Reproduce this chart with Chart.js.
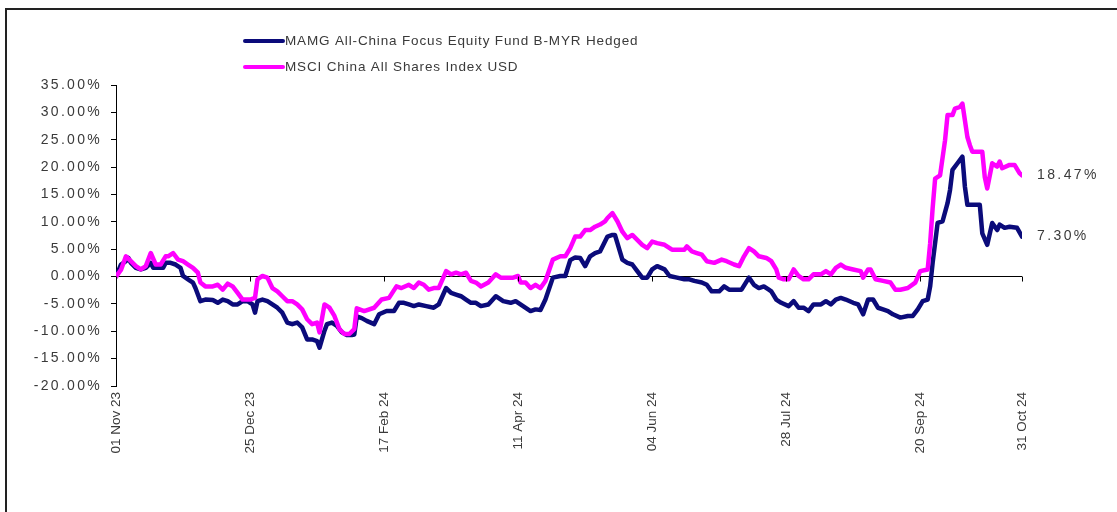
<!DOCTYPE html>
<html>
<head>
<meta charset="utf-8">
<script src="https://cdn.jsdelivr.net/npm/chart.js@4.4.1/dist/chart.umd.min.js"></script>
<style>
  html, body { margin: 0; padding: 0; background: #fff; }
  #wrap { position: absolute; left: 0; top: 0; width: 1117px; height: 512px; }
  #frame { position: absolute; left: 5px; top: 8px; width: 1200px; height: 600px;
           border-left: 2px solid #222; border-top: 2px solid #222; pointer-events: none; }
</style>
</head>
<body>
<div id="wrap"><canvas id="c"></canvas></div>
<div id="frame"></div>
<script>
// ---- Data (days since 01 Nov 2023, cumulative return in %) ----
const seriesNames = ['MAMG All-China Focus Equity Fund B-MYR Hedged', 'MSCI China All Shares Index USD'];

const fundDays = [
  0,2,4,5,6,8,10,12,14,15,
  17,19,20,22,24,26,27,29,31,32,
  34,36,39,41,43,45,47,49,51,53,
  55,56,57,59,61,63,65,67,69,71,
  73,75,77,79,81,82,84,85,87,89,
  91,93,95,96,97,99,101,104,106,109,
  112,114,116,118,120,122,125,128,130,133,
  135,137,139,141,143,145,147,150,153,156,
  159,161,164,167,169,171,173,176,179,181,
  183,185,187,189,191,193,195,196,198,200,
  201,202,204,206,208,210,212,214,216,218,
  221,223,226,229,231,233,236,238,240,243,
  245,247,249,252,255,257,259,261,263,264,
  266,268,271,273,275,277,279,281,284,286,
  288,290,292,294,297,299,301,303,305,307,
  309,311,313,316,319,321,323,325,327,328,
  329,331,333,335,336,337,339,341,342,343,
  345,348,349,351,353,355,356,358,360,363,
  365
];
const fundValues = [
  0,2.2,2.8,3.4,2.5,1.6,1.3,1.6,2.5,1.6,
  1.6,1.6,2.5,2.5,2.2,1.6,0.1,-0.5,-1.1,-2.1,
  -4.5,-4.2,-4.3,-4.8,-4.2,-4.5,-5.1,-5.1,-4.5,-4.5,
  -5.1,-6.6,-4.5,-4.2,-4.5,-5.1,-5.7,-6.6,-8.4,-8.7,
  -8.4,-9.3,-11.5,-11.5,-11.8,-13.0,-9.9,-8.7,-8.4,-9.0,
  -10.2,-10.7,-10.7,-10.6,-7.3,-7.6,-8.1,-8.7,-6.9,-6.3,
  -6.3,-4.8,-4.8,-5.1,-5.4,-5.1,-5.4,-5.7,-5.1,-2.1,
  -3.0,-3.3,-3.6,-4.2,-4.8,-4.8,-5.4,-5.1,-3.6,-4.5,
  -4.8,-4.5,-5.4,-6.3,-6.0,-6.1,-4.2,-0.2,0.1,0.1,
  3.0,3.5,3.4,1.9,3.7,4.3,4.6,5.5,7.3,7.6,
  7.6,6.1,3.1,2.5,2.2,1.0,-0.2,-0.2,1.3,1.9,
  1.3,0.1,-0.2,-0.5,-0.5,-0.8,-1.1,-1.5,-2.7,-2.7,
  -1.8,-2.4,-2.4,-2.4,-0.2,-1.5,-2.1,-1.8,-2.4,-2.7,
  -4.2,-4.8,-5.4,-4.5,-5.7,-5.7,-6.3,-5.1,-5.1,-4.5,
  -5.1,-4.2,-3.9,-4.2,-4.8,-5.1,-6.9,-4.2,-4.2,-5.7,
  -6.0,-6.3,-6.9,-7.5,-7.2,-7.2,-6.0,-4.5,-4.2,-1.8,
  2.5,9.8,10.1,13.4,15.8,19.5,20.7,21.9,16.4,13.1,
  13.1,13.1,7.9,5.8,9.8,8.5,9.5,8.9,9.1,8.9,
  7.30
];

const indexDays = [
  0,2,4,6,8,10,12,14,16,18,
  20,21,23,25,27,29,31,33,34,36,
  39,41,43,45,47,49,51,54,56,57,
  59,61,63,65,67,69,71,73,75,77,
  79,81,82,84,86,88,90,92,94,96,
  97,100,104,107,110,113,115,118,120,122,
  124,126,128,130,133,135,137,139,141,143,
  145,147,150,153,155,158,160,162,163,165,
  167,169,171,173,176,179,181,183,185,187,
  189,191,193,195,197,198,200,202,204,206,
  208,210,212,214,216,218,221,224,226,229,
  230,232,234,236,238,241,244,246,249,251,
  253,255,257,259,262,264,266,267,269,271,
  273,275,277,279,281,284,286,288,290,292,
  294,297,300,301,303,304,306,309,312,314,
  316,319,322,324,327,328,329,330,332,334,
  335,337,338,340,341,343,344,345,347,349,
  350,351,353,355,356,357,360,362,364,365
];
const indexValues = [
  0,1.2,3.7,2.8,1.9,1.3,1.9,4.3,2.2,2.2,
  3.7,3.7,4.3,3.1,2.8,2.2,1.6,0.7,-1.1,-1.8,
  -1.8,-1.5,-2.4,-1.3,-1.8,-3.0,-4.2,-4.2,-3.9,-0.5,
  0.1,-0.2,-2.1,-2.7,-3.6,-4.5,-4.5,-5.1,-6.0,-7.8,
  -8.7,-8.4,-10.2,-5.1,-5.7,-7.2,-9.6,-10.5,-10.5,-9.6,
  -5.8,-6.3,-5.7,-4.2,-3.9,-1.8,-2.1,-1.5,-2.1,-1.1,
  -1.5,-2.4,-2.1,-2.1,1.0,0.4,0.7,0.4,0.7,-0.8,
  -1.1,-1.8,-1.1,0.4,-0.2,-0.2,-0.2,0.1,-1.1,-1.1,
  -2.1,-1.5,-2.1,-0.8,3.1,3.7,3.7,5.2,7.3,7.3,
  8.5,8.5,9.1,9.5,10.1,10.7,11.6,10.1,8.2,7.0,
  7.6,6.7,5.8,5.2,6.4,6.1,5.8,4.9,4.9,4.9,
  5.5,4.6,4.3,4.0,2.8,2.5,3.1,2.8,2.2,1.9,
  3.7,5.2,4.6,3.7,3.4,2.8,1.3,-0.2,-0.5,-0.5,
  1.3,0.1,-0.5,-0.5,0.4,0.4,1.0,0.4,1.6,2.2,
  1.6,1.3,1.0,-0.2,1.3,1.3,-0.5,-0.8,-1.1,-2.4,
  -2.4,-2.1,-1.1,1.0,1.3,6.1,12.5,17.9,18.5,24.9,
  29.5,29.5,30.7,31.0,31.6,25.5,24.0,22.8,22.8,22.8,
  18.2,16.1,20.7,20.1,21.0,19.8,20.4,20.4,18.9,18.47
];

const xTickDays = [0, 54, 108, 162, 216, 270, 324, 365];
const xTickLabels = ['01 Nov 23', '25 Dec 23', '17 Feb 24', '11 Apr 24', '04 Jun 24', '28 Jul 24', '20 Sep 24', '31 Oct 24'];
const yMin = -20, yMax = 35, yStep = 5;

// ---- Styling ----
const NAVY = '#0b0b7a';
const MAGENTA = '#ff00ff';
const TEXT = '#3a3a3a';
const FONT = "'Liberation Sans', Arial, sans-serif";
const Y_LS = '2.3px';
const X_LS = '0px';

const toPoints = (days, vals) => days.map((d, i) => ({ x: d, y: vals[i] }));

// per-axis letter spacing for tick labels
const spacingPlugin = {
  id: 'spacing',
  afterLayout(chart) {
    [['x', X_LS], ['y', Y_LS]].forEach(([id, ls]) => {
      const s = chart.scales[id];
      if (s && !s._lsPatched) {
        const orig = s.drawLabels;
        s.drawLabels = function (area) {
          const c = this.ctx; const prev = c.letterSpacing;
          c.letterSpacing = ls; orig.call(this, area); c.letterSpacing = prev;
        };
        s._lsPatched = true;
      }
    });
  }
};

const extrasPlugin = {
  id: 'extras',
  afterDraw(chart) {
    const ctx = chart.ctx;
    const xs = chart.scales.x, ys = chart.scales.y;
    const y0 = ys.getPixelForValue(0);
    ctx.save();
    // x tick marks on the zero line
    ctx.strokeStyle = '#000';
    ctx.lineWidth = 1;
    xTickDays.forEach(d => {
      const px = Math.round(xs.getPixelForValue(d)) + 0.5;
      ctx.beginPath(); ctx.moveTo(px, y0); ctx.lineTo(px, y0 + 5); ctx.stroke();
    });
    // end value labels
    ctx.letterSpacing = '2.4px';
    ctx.font = '14px ' + FONT;
    ctx.fillStyle = TEXT;
    ctx.textBaseline = 'middle';
    ctx.textAlign = 'left';
    const lastX = xs.getPixelForValue(xTickDays[xTickDays.length - 1]);
    const fl = fundValues[fundValues.length - 1];
    const il = indexValues[indexValues.length - 1];
    ctx.fillText(il.toFixed(2) + '%', lastX + 15, ys.getPixelForValue(il));
    ctx.fillText(fl.toFixed(2) + '%', lastX + 15, ys.getPixelForValue(fl));
    // legend
    ctx.font = '13.5px ' + FONT;
    ctx.letterSpacing = '0.85px';
    const items = [[seriesNames[0], NAVY, 41], [seriesNames[1], MAGENTA, 67]];
    items.forEach(([label, col, ly]) => {
      ctx.strokeStyle = col; ctx.lineWidth = 4; ctx.lineCap = 'round';
      ctx.beginPath(); ctx.moveTo(245, ly); ctx.lineTo(283, ly); ctx.stroke();
      ctx.fillStyle = TEXT;
      ctx.fillText(label, 285, ly);
    });
    ctx.restore();
  }
};

new Chart(document.getElementById('c'), {
  type: 'line',
  data: {
    datasets: [
      { label: seriesNames[0], data: toPoints(fundDays, fundValues), borderColor: NAVY,
        borderWidth: 4.5, pointRadius: 0, tension: 0, borderJoinStyle: 'round', borderCapStyle: 'round', order: 2 },
      { label: seriesNames[1], data: toPoints(indexDays, indexValues), borderColor: MAGENTA,
        borderWidth: 4.5, pointRadius: 0, tension: 0, borderJoinStyle: 'round', borderCapStyle: 'round', order: 1 }
    ]
  },
  options: {
    responsive: true,
    maintainAspectRatio: false,
    animation: false,
    layout: { padding: { left: 0, top: 85, right: 95, bottom: 0 } },
    plugins: { legend: { display: false }, tooltip: { enabled: false } },
    scales: {
      x: {
        type: 'linear', min: 0, max: 365,
        afterBuildTicks: s => { s.ticks = xTickDays.map(v => ({ value: v })); },
        afterFit: s => { s.height = 126; },
        border: { display: false },
        grid: { display: false, drawTicks: false },
        ticks: {
          autoSkip: false, maxRotation: 90, minRotation: 90, padding: 6,
          color: TEXT, font: { family: FONT, size: 13.5 },
          callback: (v, i) => xTickLabels[i]
        }
      },
      y: {
        min: yMin, max: yMax,
        afterFit: s => { s.width = 116; },
        border: { display: true, color: '#000', width: 1 },
        grid: {
          drawOnChartArea: true, drawTicks: true, tickLength: 5, tickColor: '#000',
          color: c => (c.tick && c.tick.value === 0) ? '#000' : 'rgba(0,0,0,0)', lineWidth: 1
        },
        ticks: {
          stepSize: yStep, padding: 9, color: TEXT, font: { family: FONT, size: 14 },
          callback: v => v.toFixed(2) + '%'
        }
      }
    }
  },
  plugins: [spacingPlugin, extrasPlugin]
});
</script>
</body>
</html>
